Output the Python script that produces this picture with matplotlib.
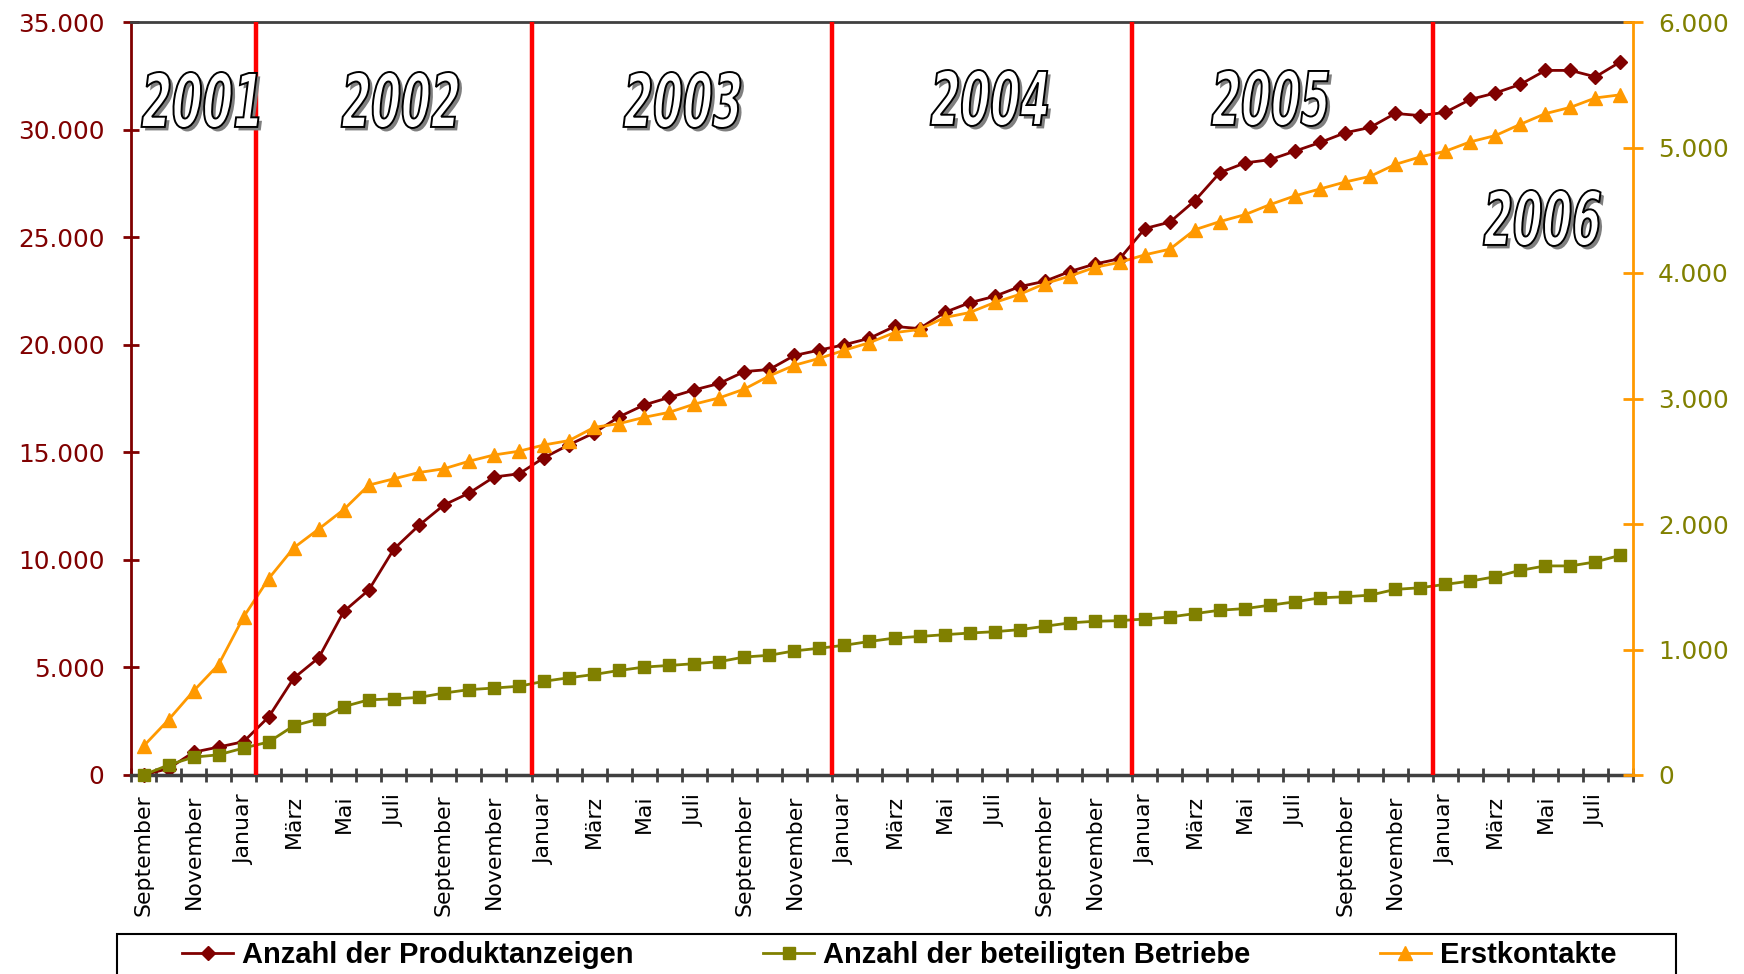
import matplotlib
matplotlib.use('Agg')
import matplotlib.pyplot as plt
import matplotlib.patheffects as pe
from matplotlib.textpath import TextPath
from matplotlib.patches import PathPatch, Rectangle
from matplotlib.font_manager import FontProperties
from matplotlib.transforms import Affine2D
from matplotlib.ticker import FuncFormatter, MultipleLocator

# monthly values, September 2001 .. August 2006
produktanzeigen = [0, 300, 1060, 1300, 1550, 2700, 4500, 5450, 7600, 8600,
                   10500, 11600, 12550, 13100, 13850, 14000, 14750, 15350, 15900, 16650,
                   17200, 17550, 17900, 18200, 18750, 18850, 19500, 19750, 20000, 20300,
                   20850, 20750, 21500, 21950, 22250, 22700, 22950, 23400, 23750, 24000,
                   25400, 25700, 26700, 28000, 28450, 28600, 29000, 29400, 29850, 30100,
                   30750, 30650, 30800, 31400, 31700, 32100, 32750, 32750, 32450, 33150]
betriebe = [0, 80, 142, 161, 215, 263, 392, 446, 545, 599,
            607, 618, 653, 680, 693, 707, 747, 775, 801, 833,
            860, 873, 887, 903, 940, 954, 989, 1010, 1034, 1064,
            1091, 1104, 1118, 1131, 1142, 1158, 1185, 1212, 1225, 1230,
            1243, 1259, 1286, 1313, 1326, 1353, 1380, 1412, 1420, 1433,
            1479, 1492, 1519, 1545, 1580, 1631, 1666, 1666, 1698, 1751]
erstkontakte = [230, 440, 670, 880, 1260, 1565, 1810, 1960, 2115, 2310,
                2360, 2410, 2440, 2500, 2550, 2580, 2630, 2665, 2770, 2800,
                2850, 2890, 2955, 3005, 3075, 3180, 3265, 3320, 3385, 3445,
                3525, 3550, 3645, 3685, 3765, 3830, 3915, 3975, 4045, 4085,
                4145, 4190, 4345, 4410, 4465, 4545, 4615, 4670, 4725, 4770,
                4865, 4925, 4970, 5045, 5095, 5185, 5270, 5320, 5395, 5420]

monats_labels = ['September', 'November', 'Januar', 'März', 'Mai', 'Juli'] * 5
serien_namen = ['Anzahl der Produktanzeigen', 'Anzahl der beteiligten Betriebe', 'Erstkontakte']
jahre = ['2001', '2002', '2003', '2004', '2005', '2006']
jahreswechsel = [4.5, 15.5, 27.5, 39.5, 51.5]

W, H = 1744, 974
fig = plt.figure(figsize=(W / 100, H / 100), dpi=100)
ax = fig.add_axes([131 / W, 1 - 775 / H, (1633 - 131) / W, (775 - 22) / H])
ax2 = ax.twinx()

x = list(range(len(produktanzeigen)))
l1, = ax.plot(x, produktanzeigen, color='#800000', lw=2, marker='D', ms=7, clip_on=False)
l2, = ax2.plot(x, betriebe, color='#808000', lw=2, marker='s', ms=9, clip_on=False)
l3, = ax2.plot(x, erstkontakte, color='#FF9900', lw=2, marker='^', ms=10.5, clip_on=False)

for xv in jahreswechsel:
    ax2.axvline(xv, color='red', lw=3.2, zorder=5)

ax.set_xlim(-0.5, len(x) - 0.5)
ax.set_ylim(0, 35000)
ax2.set_ylim(0, 6000)
ax.yaxis.set_major_locator(MultipleLocator(5000))
ax2.yaxis.set_major_locator(MultipleLocator(1000))
de_fmt = FuncFormatter(lambda v, p: f"{int(v):,}".replace(',', '.'))
ax.yaxis.set_major_formatter(de_fmt)
ax2.yaxis.set_major_formatter(de_fmt)

ax.set_xticks([i - 0.5 for i in range(len(x) + 1)])
ax.set_xticks(x[::2], minor=True)
ax.set_xticklabels(monats_labels, minor=True, rotation=90)

ax.tick_params(axis='y', direction='inout', length=12, width=2, color='#800000',
               labelcolor='#800000', labelsize=17.8, pad=13)
ax.tick_params(axis='x', which='major', direction='inout', length=10, width=2,
               color='#404040', labelbottom=False)
ax.tick_params(axis='x', which='minor', length=0, labelsize=15.8, pad=14)
ax2.tick_params(axis='y', direction='inout', length=14, width=2, color='#FF9900',
                labelcolor='#808000', labelsize=17.8, pad=11)

ax.spines['left'].set_color('#800000')
ax.spines['left'].set_linewidth(2)
ax.spines['right'].set_visible(False)
ax.spines['top'].set_color('#404040')
ax.spines['top'].set_linewidth(2)
ax.spines['bottom'].set_color('#404040')
ax.spines['bottom'].set_linewidth(2.5)
for s in ['left', 'top', 'bottom']:
    ax2.spines[s].set_visible(False)
ax2.spines['right'].set_color('#FF9900')
ax2.spines['right'].set_linewidth(2)


def wordart(text, cx, cy, w, h):
    # outlined white digits with grey drop shadow, placed in pixel coords
    fp = FontProperties(family='DejaVu Sans', weight='bold')
    tp = TextPath((0, 0), text, size=100, prop=fp)
    tp = Affine2D().skew_deg(12, 0).transform_path(tp)
    ext = tp.get_extents()
    t = (Affine2D().translate(-ext.x0 - ext.width / 2, -ext.y0 - ext.height / 2)
         .scale(w / ext.width / W, h / ext.height / H)
         .translate(cx / W, 1 - cy / H))
    patch = PathPatch(t.transform_path(tp), transform=fig.transFigure,
                      fc='white', ec='black', lw=1.4, zorder=10,
                      path_effects=[pe.SimplePatchShadow(offset=(2.5, -2.5),
                                                         shadow_rgbFace='#7f7f7f', alpha=1),
                                    pe.Normal()])
    fig.add_artist(patch)


jahr_pos = [(200, 100), (400, 100), (682, 100), (989, 98), (1270, 98), (1542, 218)]
for jahr, (cx, cy) in zip(jahre, jahr_pos):
    wordart(jahr, cx, cy, 117, 56)

fig.add_artist(Rectangle((117 / W, -0.05), (1676 - 117) / W, 0.05 + 1 - 934 / H,
                         transform=fig.transFigure, fill=False, ec='black', lw=1.5))
fig.legend([l1, l2, l3], serien_namen, loc='center left',
           bbox_to_anchor=(182 / W, 1 - 955 / H), ncol=3, frameon=False,
           prop={'family': 'Liberation Sans', 'weight': 'bold', 'size': 21},
           handlelength=1.75, handletextpad=0.3, columnspacing=4.45,
           borderpad=0, borderaxespad=0)

fig.savefig('out.png', dpi=100)
